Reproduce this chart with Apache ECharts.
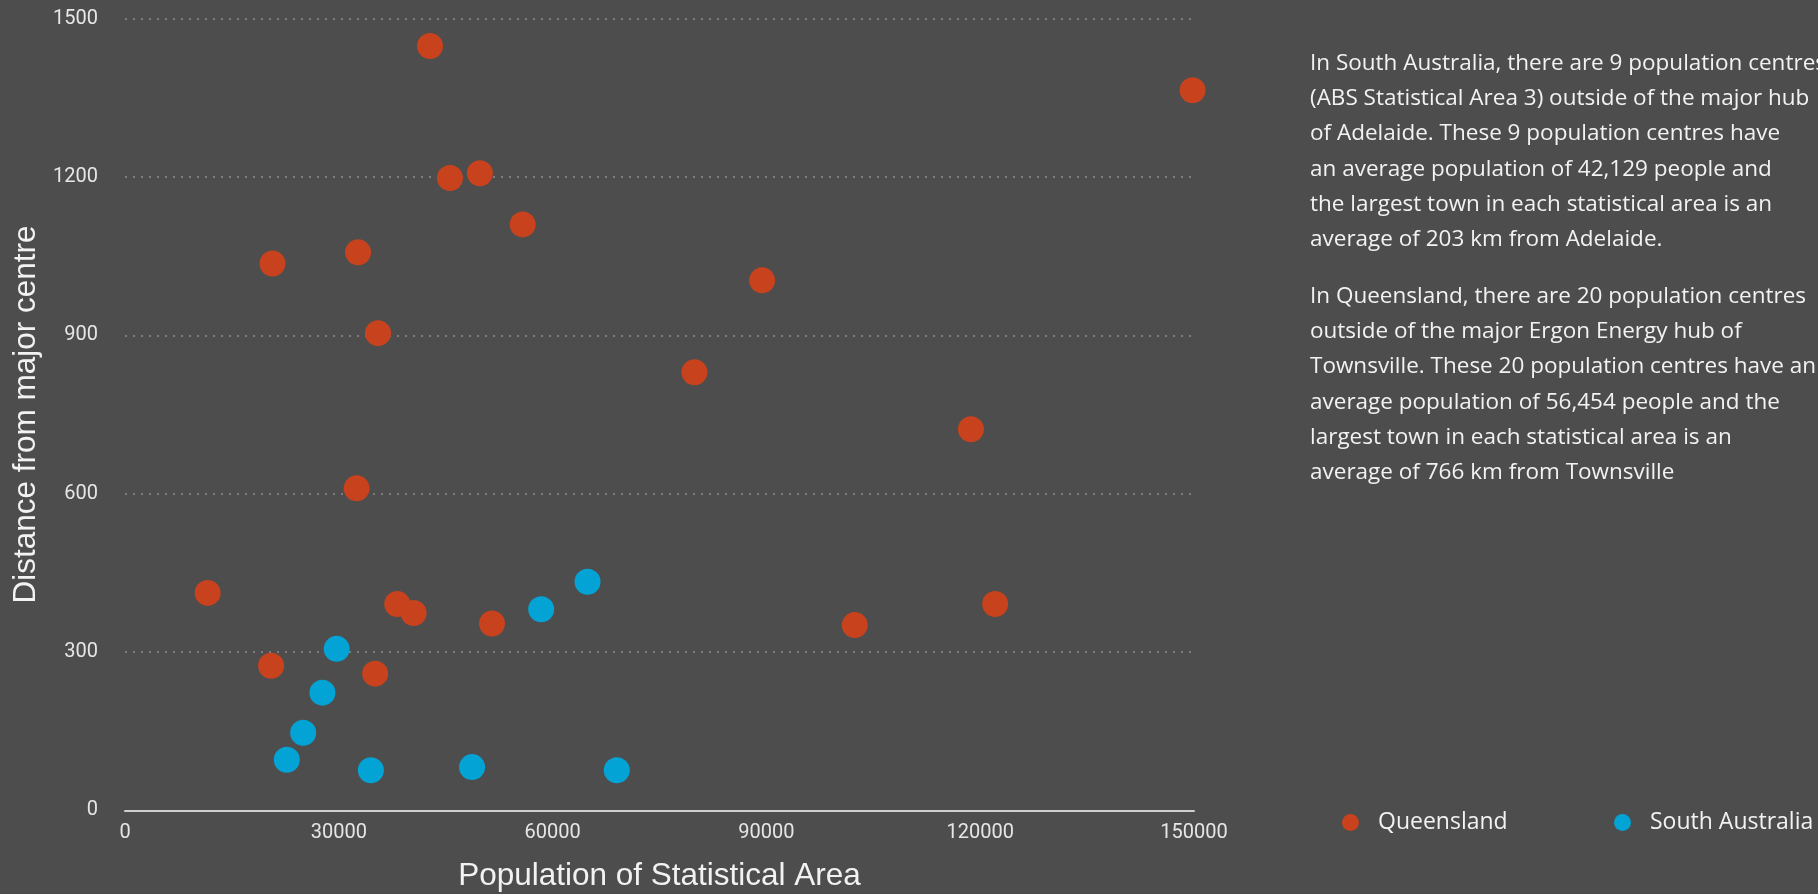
<!DOCTYPE html>
<html>
<head>
<meta charset="utf-8">
<script src="https://cdn.jsdelivr.net/npm/echarts@6/dist/echarts.min.js"></script>
<style>
html,body{margin:0;padding:0;background:#4d4d4d;}
#chart{width:1818px;height:894px;}
</style>
</head>
<body>
<div id="chart"></div>
<script>
// Queensland: [population, distance km]
const qldPopulation = [11600, 20500, 20700, 32500, 32700, 35100, 35500, 38200, 40500, 42800, 45600, 49800, 51500, 55800, 79900, 89400, 102400, 118700, 122100, 149800];
const qldDistance   = [412, 274, 1036, 610, 1057, 259, 904, 391, 374, 1448, 1198, 1207, 354, 1110, 830, 1004, 351, 722, 391, 1364];
// South Australia
const saPopulation = [22700, 25000, 27700, 29700, 34500, 48700, 58400, 64900, 69000];
const saDistance   = [96, 147, 223, 306, 76, 82, 381, 433, 76];

const seriesNames = ['Queensland', 'South Australia'];
const xTitle = 'Population of Statistical Area';
const yTitle = 'Distance from major centre';
const paragraph1 = [
  'In South Australia, there are 9 population centres',
  '(ABS Statistical Area 3) outside of the major hub',
  'of Adelaide. These 9 population centres have',
  'an average population of 42,129 people and',
  'the largest town in each statistical area is an',
  'average of 203 km from Adelaide.'
];
const paragraph2 = [
  'In Queensland, there are 20 population centres',
  'outside of the major Ergon Energy hub of',
  'Townsville. These 20 population centres have an',
  'average population of 56,454 people and the',
  'largest town in each statistical area is an',
  'average of 766 km from Townsville'
];

const qldData = qldPopulation.map((p, i) => [p, qldDistance[i]]);
const saData = saPopulation.map((p, i) => [p, saDistance[i]]);

const bodyFont = '"Open Sans", "DejaVu Sans", sans-serif';
const tickFont = 'Roboto, "Liberation Sans", sans-serif';
const titleFont = '"Liberation Sans", Arial, sans-serif';

const chart = echarts.init(document.getElementById('chart'), null, {renderer: 'canvas'});
chart.setOption({
  backgroundColor: '#4d4d4d',
  animation: false,
  grid: {left: 125, right: 624, top: 18.5, bottom: 83.6, containLabel: false, outerBoundsMode: 'none'},
  xAxis: {
    type: 'value', min: 0, max: 150000, interval: 30000,
    name: xTitle, nameLocation: 'middle', nameGap: 50,
    nameTextStyle: {color: '#f2f2f2', fontSize: 31.5, fontFamily: titleFont},
    axisLine: {show: true, lineStyle: {color: '#cfcfcf', width: 2}},
    axisTick: {show: false},
    splitLine: {show: false},
    axisLabel: {color: '#e6e6e6', fontSize: 20, fontFamily: tickFont, margin: 13, formatter: v => String(v)}
  },
  yAxis: {
    type: 'value', min: 0, max: 1500, interval: 300,
    name: yTitle, nameLocation: 'middle', nameGap: 79, nameRotate: 90,
    nameTextStyle: {color: '#f2f2f2', fontSize: 31.5, fontFamily: titleFont},
    axisLine: {show: false},
    axisTick: {show: false},
    splitLine: {show: true, lineStyle: {color: '#8c8c8c', width: 1.5, type: [2, 6]}},
    axisLabel: {color: '#e6e6e6', fontSize: 20, fontFamily: tickFont, margin: 27, formatter: v => String(v)}
  },
  legend: [
    {data: [seriesNames[0]], left: 1337, top: 806, icon: 'circle', itemWidth: 17, itemHeight: 17,
     textStyle: {color: '#f2f2f2', fontSize: 23, fontFamily: bodyFont, padding: [0, 0, 0, 14]}},
    {data: [seriesNames[1]], left: 1609, top: 806, icon: 'circle', itemWidth: 17, itemHeight: 17,
     textStyle: {color: '#f2f2f2', fontSize: 23, fontFamily: bodyFont, padding: [0, 0, 0, 14]}}
  ],
  graphic: [
    {type: 'text', left: 1310, top: 46, style: {text: paragraph1.join('\n'), fill: '#f2f2f2', font: '22.5px ' + bodyFont, lineHeight: 35.2}},
    {type: 'text', left: 1310, top: 279, style: {text: paragraph2.join('\n'), fill: '#f2f2f2', font: '22.5px ' + bodyFont, lineHeight: 35.2}}
  ],
  series: [
    {name: seriesNames[0], type: 'scatter', data: qldData, symbolSize: 26, itemStyle: {color: '#c8421e', opacity: 1}},
    {name: seriesNames[1], type: 'scatter', data: saData, symbolSize: 26, itemStyle: {color: '#04a3d6', opacity: 1}}
  ]
});
</script>
</body>
</html>
